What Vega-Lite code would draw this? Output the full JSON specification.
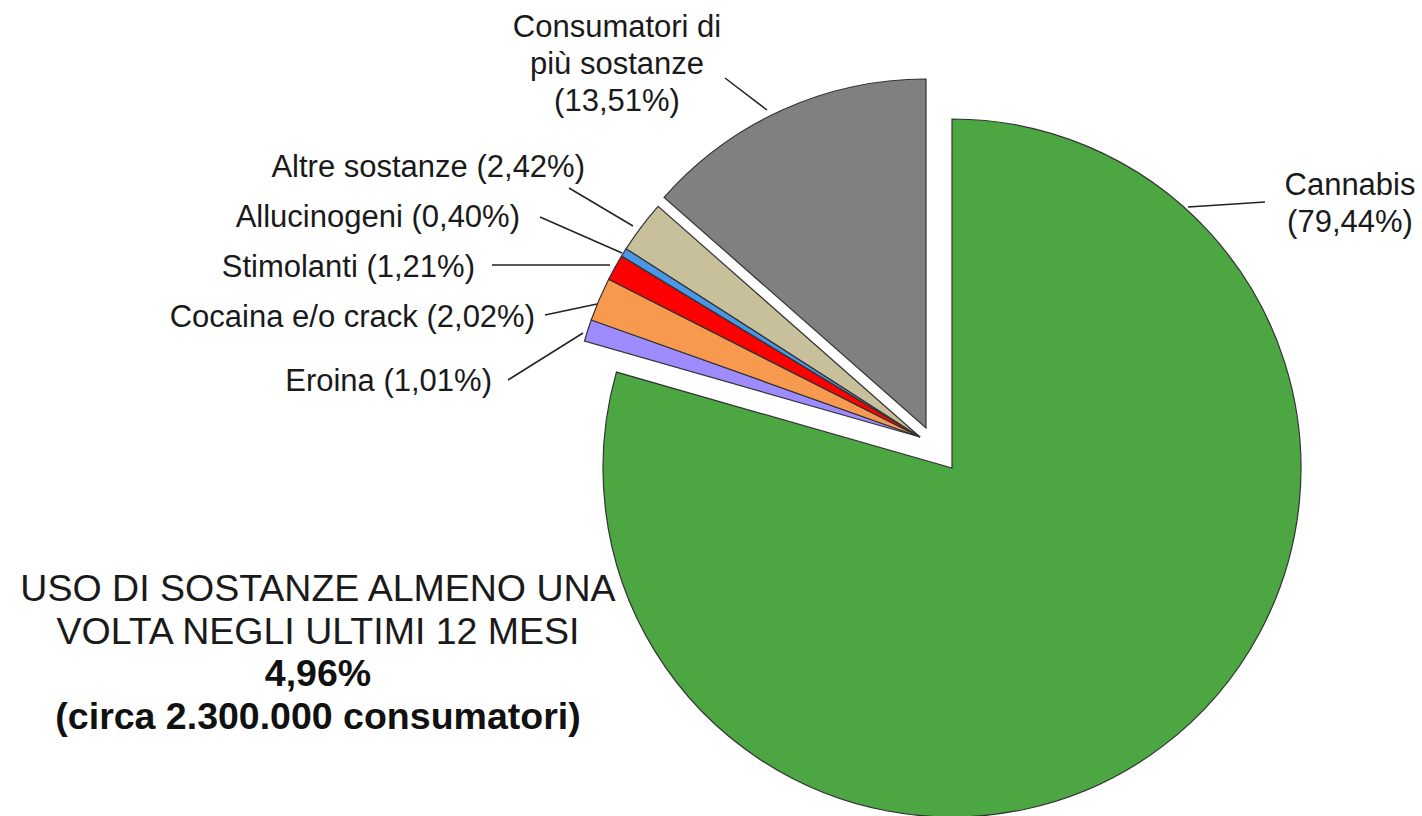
{
  "$schema": "https://vega.github.io/schema/vega-lite/v6.json",
  "width": 1422,
  "height": 816,
  "autosize": "none",
  "padding": 0,
  "background": "white",
  "config": {"view": {"stroke": null}, "font": "Liberation Sans"},
  "data": {"values": [
    {"category": "Cannabis", "share": 79.44, "label": "Cannabis\n(79,44%)"},
    {"category": "Eroina", "share": 1.01, "label": "Eroina (1,01%)"},
    {"category": "Cocaina e/o crack", "share": 2.02, "label": "Cocaina e/o crack (2,02%)"},
    {"category": "Stimolanti", "share": 1.21, "label": "Stimolanti (1,21%)"},
    {"category": "Allucinogeni", "share": 0.40, "label": "Allucinogeni (0,40%)"},
    {"category": "Altre sostanze", "share": 2.42, "label": "Altre sostanze (2,42%)"},
    {"category": "Consumatori di più sostanze", "share": 13.51, "label": "Consumatori di\npiù sostanze\n(13,51%)"}
  ]},
  "transform": [
    {"window": [{"op": "row_number", "as": "idx"}]},
    {"stack": "share", "groupby": [], "sort": [{"field": "idx", "order": "ascending"}], "as": ["s0", "s1"]}
  ],
  "layer": [
    {
      "data": {"values": [{}]},
      "mark": {"type": "text", "fontSize": 37.5, "align": "center", "baseline": "alphabetic", "lineHeight": 42.5, "color": "#1a1a1a"},
      "encoding": {
        "x": {"datum": -1.77874, "type": "quantitative", "scale": {"domain": [-2.69253, 1.39368], "nice": false, "zero": false}, "axis": null},
        "y": {"datum": -0.43966, "type": "quantitative", "scale": {"domain": [-1.05747, 1.28736], "nice": false, "zero": false}, "axis": null},
        "text": {"value": ["USO DI SOSTANZE ALMENO UNA", "VOLTA NEGLI ULTIMI 12 MESI"]}
      }
    },
    {
      "data": {"values": [{}]},
      "mark": {"type": "text", "fontSize": 37.5, "fontWeight": "bold", "align": "center", "baseline": "alphabetic", "lineHeight": 43, "color": "#111111"},
      "encoding": {
        "x": {"datum": -1.77874, "type": "quantitative", "axis": null},
        "y": {"datum": -0.68391, "type": "quantitative", "axis": null},
        "text": {"value": ["4,96%", "(circa 2.300.000 consumatori)"]}
      }
    },
    {
      "transform": [{"filter": "datum.category === 'Cannabis'"}],
      "mark": {"type": "arc", "radius": 349, "stroke": "#333333", "strokeWidth": 1.2, "xOffset": 15, "yOffset": 20},
      "encoding": {
        "x": {"datum": 0, "type": "quantitative", "axis": null},
        "y": {"datum": 0, "type": "quantitative", "axis": null},
        "theta": {"field": "s0", "type": "quantitative", "stack": null, "scale": {"domain": [0, 100.01], "range": [0, 6.283185307179586]}},
        "theta2": {"field": "s1"},
        "color": {"field": "category", "type": "nominal", "legend": null, "scale": {
          "domain": ["Cannabis", "Eroina", "Cocaina e/o crack", "Stimolanti", "Allucinogeni", "Altre sostanze", "Consumatori di più sostanze"],
          "range": ["#4ca642", "#9e8cff", "#f79a50", "#ff0000", "#4a97e8", "#c8c09b", "#808080"]}}
      }
    },
    {
      "transform": [{"filter": "datum.category === 'Consumatori di più sostanze'"}],
      "mark": {"type": "arc", "radius": 349, "stroke": "#333333", "strokeWidth": 1.2, "xOffset": -11, "yOffset": -20},
      "encoding": {
        "x": {"datum": 0, "type": "quantitative", "axis": null},
        "y": {"datum": 0, "type": "quantitative", "axis": null},
        "theta": {"field": "s0", "type": "quantitative", "stack": null},
        "theta2": {"field": "s1"},
        "color": {"field": "category", "type": "nominal", "legend": null}
      }
    },
    {
      "transform": [{"filter": "datum.category !== 'Cannabis' && datum.category !== 'Consumatori di più sostanze'"}],
      "mark": {"type": "arc", "radius": 349, "stroke": "#333333", "strokeWidth": 1.2, "xOffset": -17, "yOffset": -11},
      "encoding": {
        "x": {"datum": 0, "type": "quantitative", "axis": null},
        "y": {"datum": 0, "type": "quantitative", "axis": null},
        "theta": {"field": "s0", "type": "quantitative", "stack": null},
        "theta2": {"field": "s1"},
        "color": {"field": "category", "type": "nominal", "legend": null}
      }
    },
    {
      "data": {"values": [{}]},
      "mark": {"type": "rule", "color": "#222222", "strokeWidth": 1.5},
      "encoding": {"x": {"datum": 0.72126, "type": "quantitative", "axis": null}, "y": {"datum": 0.69253, "type": "quantitative", "axis": null}, "x2": {"datum": 0.94253}, "y2": {"datum": 0.70690}}
    },
    {
      "data": {"values": [{}]},
      "mark": {"type": "rule", "color": "#222222", "strokeWidth": 1.5},
      "encoding": {"x": {"datum": -1.23276, "type": "quantitative", "axis": null}, "y": {"datum": 0.19540, "type": "quantitative", "axis": null}, "x2": {"datum": -1.01724}, "y2": {"datum": 0.33046}}
    },
    {
      "data": {"values": [{}]},
      "mark": {"type": "rule", "color": "#222222", "strokeWidth": 1.5},
      "encoding": {"x": {"datum": -1.12644, "type": "quantitative", "axis": null}, "y": {"datum": 0.38218, "type": "quantitative", "axis": null}, "x2": {"datum": -0.97701}, "y2": {"datum": 0.41379}}
    },
    {
      "data": {"values": [{}]},
      "mark": {"type": "rule", "color": "#222222", "strokeWidth": 1.5},
      "encoding": {"x": {"datum": -1.27874, "type": "quantitative", "axis": null}, "y": {"datum": 0.52586, "type": "quantitative", "axis": null}, "x2": {"datum": -0.93966}, "y2": {"datum": 0.52586}}
    },
    {
      "data": {"values": [{}]},
      "mark": {"type": "rule", "color": "#222222", "strokeWidth": 1.5},
      "encoding": {"x": {"datum": -1.14080, "type": "quantitative", "axis": null}, "y": {"datum": 0.66379, "type": "quantitative", "axis": null}, "x2": {"datum": -0.90517}, "y2": {"datum": 0.56034}}
    },
    {
      "data": {"values": [{}]},
      "mark": {"type": "rule", "color": "#222222", "strokeWidth": 1.5},
      "encoding": {"x": {"datum": -1.05747, "type": "quantitative", "axis": null}, "y": {"datum": 0.74713, "type": "quantitative", "axis": null}, "x2": {"datum": -0.87356}, "y2": {"datum": 0.63793}}
    },
    {
      "data": {"values": [{}]},
      "mark": {"type": "rule", "color": "#222222", "strokeWidth": 1.5},
      "encoding": {"x": {"datum": -0.60920, "type": "quantitative", "axis": null}, "y": {"datum": 1.06322, "type": "quantitative", "axis": null}, "x2": {"datum": -0.48851}, "y2": {"datum": 0.97126}}
    },
    {
      "transform": [{"filter": "datum.category === 'Cannabis'"}],
      "mark": {"type": "text", "fontSize": 31, "align": "center", "baseline": "alphabetic", "lineBreak": "\n", "lineHeight": 37, "color": "#1a1a1a"},
      "encoding": {"x": {"datum": 1.18678, "type": "quantitative", "axis": null}, "y": {"datum": 0.72701, "type": "quantitative", "axis": null}, "text": {"field": "label"}}
    },
    {
      "transform": [{"filter": "datum.category === 'Eroina'"}],
      "mark": {"type": "text", "fontSize": 31, "align": "right", "baseline": "alphabetic", "color": "#1a1a1a"},
      "encoding": {"x": {"datum": -1.27874, "type": "quantitative", "axis": null}, "y": {"datum": 0.16379, "type": "quantitative", "axis": null}, "text": {"field": "label"}}
    },
    {
      "transform": [{"filter": "datum.category === 'Cocaina e/o crack'"}],
      "mark": {"type": "text", "fontSize": 31, "align": "right", "baseline": "alphabetic", "color": "#1a1a1a"},
      "encoding": {"x": {"datum": -1.15517, "type": "quantitative", "axis": null}, "y": {"datum": 0.34770, "type": "quantitative", "axis": null}, "text": {"field": "label"}}
    },
    {
      "transform": [{"filter": "datum.category === 'Stimolanti'"}],
      "mark": {"type": "text", "fontSize": 31, "align": "right", "baseline": "alphabetic", "color": "#1a1a1a"},
      "encoding": {"x": {"datum": -1.32759, "type": "quantitative", "axis": null}, "y": {"datum": 0.49138, "type": "quantitative", "axis": null}, "text": {"field": "label"}}
    },
    {
      "transform": [{"filter": "datum.category === 'Allucinogeni'"}],
      "mark": {"type": "text", "fontSize": 31, "align": "right", "baseline": "alphabetic", "color": "#1a1a1a"},
      "encoding": {"x": {"datum": -1.19828, "type": "quantitative", "axis": null}, "y": {"datum": 0.63506, "type": "quantitative", "axis": null}, "text": {"field": "label"}}
    },
    {
      "transform": [{"filter": "datum.category === 'Altre sostanze'"}],
      "mark": {"type": "text", "fontSize": 31, "align": "right", "baseline": "alphabetic", "color": "#1a1a1a"},
      "encoding": {"x": {"datum": -1.01149, "type": "quantitative", "axis": null}, "y": {"datum": 0.77874, "type": "quantitative", "axis": null}, "text": {"field": "label"}}
    },
    {
      "transform": [{"filter": "datum.category === 'Consumatori di più sostanze'"}],
      "mark": {"type": "text", "fontSize": 31, "align": "center", "baseline": "alphabetic", "lineBreak": "\n", "lineHeight": 37, "color": "#1a1a1a"},
      "encoding": {"x": {"datum": -0.91954, "type": "quantitative", "axis": null}, "y": {"datum": 1.18103, "type": "quantitative", "axis": null}, "text": {"field": "label"}}
    }
  ]
}
